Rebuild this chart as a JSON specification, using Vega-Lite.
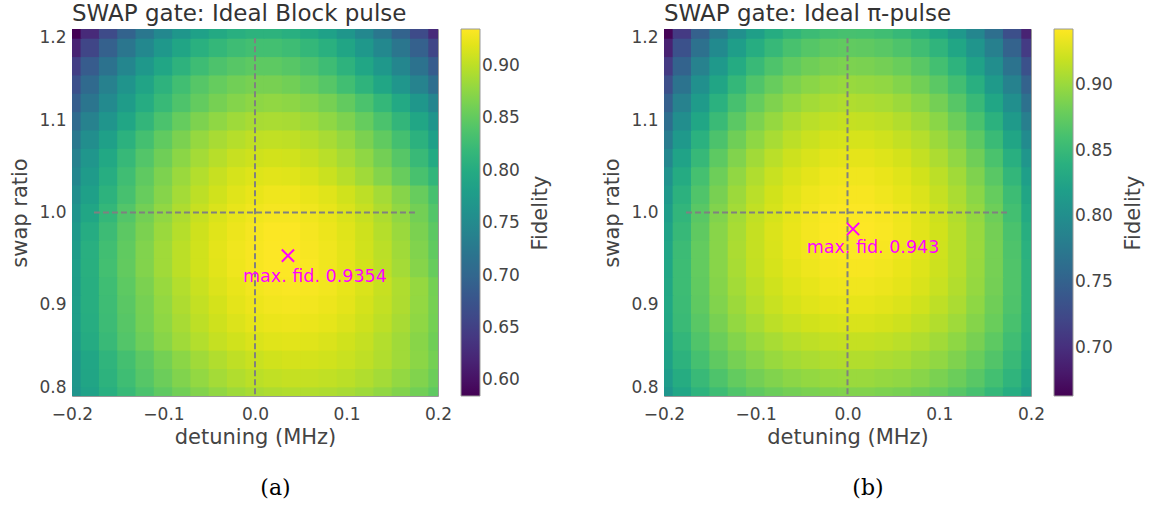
{
"$schema": "https://vega.github.io/schema/vega-lite/v6.json",
"background": "white",
"padding": {"left": 9, "top": 2, "right": 0, "bottom": 0},
"datasets": {
"a": [
{"d":-0.2,"s":0.8,"f":0.767},{"d":-0.18,"s":0.8,"f":0.787},{"d":-0.16,"s":0.8,"f":0.805},{"d":-0.14,"s":0.8,"f":0.821},{"d":-0.12,"s":0.8,"f":0.836},{"d":-0.1,"s":0.8,"f":0.849},{"d":-0.08,"s":0.8,"f":0.86},{"d":-0.06,"s":0.8,"f":0.87},{"d":-0.04,"s":0.8,"f":0.878},{"d":-0.02,"s":0.8,"f":0.885},{"d":0,"s":0.8,"f":0.89},{"d":0.02,"s":0.8,"f":0.893},{"d":0.04,"s":0.8,"f":0.895},{"d":0.06,"s":0.8,"f":0.895},{"d":0.08,"s":0.8,"f":0.893},{"d":0.1,"s":0.8,"f":0.89},{"d":0.12,"s":0.8,"f":0.885},{"d":0.14,"s":0.8,"f":0.878},{"d":0.16,"s":0.8,"f":0.87},{"d":0.18,"s":0.8,"f":0.86},{"d":0.2,"s":0.8,"f":0.849},
{"d":-0.2,"s":0.82,"f":0.771},{"d":-0.18,"s":0.82,"f":0.791},{"d":-0.16,"s":0.82,"f":0.81},{"d":-0.14,"s":0.82,"f":0.827},{"d":-0.12,"s":0.82,"f":0.843},{"d":-0.1,"s":0.82,"f":0.857},{"d":-0.08,"s":0.82,"f":0.869},{"d":-0.06,"s":0.82,"f":0.879},{"d":-0.04,"s":0.82,"f":0.888},{"d":-0.02,"s":0.82,"f":0.895},{"d":0,"s":0.82,"f":0.9},{"d":0.02,"s":0.82,"f":0.903},{"d":0.04,"s":0.82,"f":0.905},{"d":0.06,"s":0.82,"f":0.905},{"d":0.08,"s":0.82,"f":0.903},{"d":0.1,"s":0.82,"f":0.9},{"d":0.12,"s":0.82,"f":0.895},{"d":0.14,"s":0.82,"f":0.888},{"d":0.16,"s":0.82,"f":0.879},{"d":0.18,"s":0.82,"f":0.869},{"d":0.2,"s":0.82,"f":0.857},
{"d":-0.2,"s":0.84,"f":0.771},{"d":-0.18,"s":0.84,"f":0.793},{"d":-0.16,"s":0.84,"f":0.813},{"d":-0.14,"s":0.84,"f":0.831},{"d":-0.12,"s":0.84,"f":0.847},{"d":-0.1,"s":0.84,"f":0.862},{"d":-0.08,"s":0.84,"f":0.875},{"d":-0.06,"s":0.84,"f":0.886},{"d":-0.04,"s":0.84,"f":0.895},{"d":-0.02,"s":0.84,"f":0.902},{"d":0,"s":0.84,"f":0.907},{"d":0.02,"s":0.84,"f":0.911},{"d":0.04,"s":0.84,"f":0.913},{"d":0.06,"s":0.84,"f":0.913},{"d":0.08,"s":0.84,"f":0.911},{"d":0.1,"s":0.84,"f":0.907},{"d":0.12,"s":0.84,"f":0.902},{"d":0.14,"s":0.84,"f":0.895},{"d":0.16,"s":0.84,"f":0.886},{"d":0.18,"s":0.84,"f":0.875},{"d":0.2,"s":0.84,"f":0.862},
{"d":-0.2,"s":0.86,"f":0.778},{"d":-0.18,"s":0.86,"f":0.8},{"d":-0.16,"s":0.86,"f":0.822},{"d":-0.14,"s":0.86,"f":0.841},{"d":-0.12,"s":0.86,"f":0.858},{"d":-0.1,"s":0.86,"f":0.873},{"d":-0.08,"s":0.86,"f":0.886},{"d":-0.06,"s":0.86,"f":0.896},{"d":-0.04,"s":0.86,"f":0.905},{"d":-0.02,"s":0.86,"f":0.911},{"d":0,"s":0.86,"f":0.916},{"d":0.02,"s":0.86,"f":0.919},{"d":0.04,"s":0.86,"f":0.92},{"d":0.06,"s":0.86,"f":0.919},{"d":0.08,"s":0.86,"f":0.916},{"d":0.1,"s":0.86,"f":0.911},{"d":0.12,"s":0.86,"f":0.905},{"d":0.14,"s":0.86,"f":0.896},{"d":0.16,"s":0.86,"f":0.886},{"d":0.18,"s":0.86,"f":0.873},{"d":0.2,"s":0.86,"f":0.859},
{"d":-0.2,"s":0.88,"f":0.78},{"d":-0.18,"s":0.88,"f":0.803},{"d":-0.16,"s":0.88,"f":0.825},{"d":-0.14,"s":0.88,"f":0.844},{"d":-0.12,"s":0.88,"f":0.862},{"d":-0.1,"s":0.88,"f":0.877},{"d":-0.08,"s":0.88,"f":0.89},{"d":-0.06,"s":0.88,"f":0.901},{"d":-0.04,"s":0.88,"f":0.91},{"d":-0.02,"s":0.88,"f":0.917},{"d":0,"s":0.88,"f":0.922},{"d":0.02,"s":0.88,"f":0.925},{"d":0.04,"s":0.88,"f":0.926},{"d":0.06,"s":0.88,"f":0.925},{"d":0.08,"s":0.88,"f":0.922},{"d":0.1,"s":0.88,"f":0.917},{"d":0.12,"s":0.88,"f":0.91},{"d":0.14,"s":0.88,"f":0.901},{"d":0.16,"s":0.88,"f":0.89},{"d":0.18,"s":0.88,"f":0.877},{"d":0.2,"s":0.88,"f":0.862},
{"d":-0.2,"s":0.9,"f":0.78},{"d":-0.18,"s":0.9,"f":0.804},{"d":-0.16,"s":0.9,"f":0.826},{"d":-0.14,"s":0.9,"f":0.846},{"d":-0.12,"s":0.9,"f":0.863},{"d":-0.1,"s":0.9,"f":0.879},{"d":-0.08,"s":0.9,"f":0.893},{"d":-0.06,"s":0.9,"f":0.904},{"d":-0.04,"s":0.9,"f":0.913},{"d":-0.02,"s":0.9,"f":0.921},{"d":0,"s":0.9,"f":0.926},{"d":0.02,"s":0.9,"f":0.929},{"d":0.04,"s":0.9,"f":0.93},{"d":0.06,"s":0.9,"f":0.929},{"d":0.08,"s":0.9,"f":0.926},{"d":0.1,"s":0.9,"f":0.921},{"d":0.12,"s":0.9,"f":0.913},{"d":0.14,"s":0.9,"f":0.904},{"d":0.16,"s":0.9,"f":0.893},{"d":0.18,"s":0.9,"f":0.879},{"d":0.2,"s":0.9,"f":0.863},
{"d":-0.2,"s":0.92,"f":0.779},{"d":-0.18,"s":0.92,"f":0.804},{"d":-0.16,"s":0.92,"f":0.827},{"d":-0.14,"s":0.92,"f":0.848},{"d":-0.12,"s":0.92,"f":0.866},{"d":-0.1,"s":0.92,"f":0.882},{"d":-0.08,"s":0.92,"f":0.896},{"d":-0.06,"s":0.92,"f":0.907},{"d":-0.04,"s":0.92,"f":0.917},{"d":-0.02,"s":0.92,"f":0.924},{"d":0,"s":0.92,"f":0.929},{"d":0.02,"s":0.92,"f":0.932},{"d":0.04,"s":0.92,"f":0.933},{"d":0.06,"s":0.92,"f":0.932},{"d":0.08,"s":0.92,"f":0.929},{"d":0.1,"s":0.92,"f":0.923},{"d":0.12,"s":0.92,"f":0.916},{"d":0.14,"s":0.92,"f":0.906},{"d":0.16,"s":0.92,"f":0.894},{"d":0.18,"s":0.92,"f":0.88},{"d":0.2,"s":0.92,"f":0.862},
{"d":-0.2,"s":0.94,"f":0.78},{"d":-0.18,"s":0.94,"f":0.806},{"d":-0.16,"s":0.94,"f":0.83},{"d":-0.14,"s":0.94,"f":0.851},{"d":-0.12,"s":0.94,"f":0.87},{"d":-0.1,"s":0.94,"f":0.886},{"d":-0.08,"s":0.94,"f":0.9},{"d":-0.06,"s":0.94,"f":0.911},{"d":-0.04,"s":0.94,"f":0.92},{"d":-0.02,"s":0.94,"f":0.927},{"d":0,"s":0.94,"f":0.932},{"d":0.02,"s":0.94,"f":0.935},{"d":0.04,"s":0.94,"f":0.935},{"d":0.06,"s":0.94,"f":0.933},{"d":0.08,"s":0.94,"f":0.928},{"d":0.1,"s":0.94,"f":0.921},{"d":0.12,"s":0.94,"f":0.912},{"d":0.14,"s":0.94,"f":0.901},{"d":0.16,"s":0.94,"f":0.888},{"d":0.18,"s":0.94,"f":0.872},{"d":0.2,"s":0.94,"f":0.854},
{"d":-0.2,"s":0.96,"f":0.778},{"d":-0.18,"s":0.96,"f":0.805},{"d":-0.16,"s":0.96,"f":0.829},{"d":-0.14,"s":0.96,"f":0.85},{"d":-0.12,"s":0.96,"f":0.869},{"d":-0.1,"s":0.96,"f":0.886},{"d":-0.08,"s":0.96,"f":0.9},{"d":-0.06,"s":0.96,"f":0.911},{"d":-0.04,"s":0.96,"f":0.921},{"d":-0.02,"s":0.96,"f":0.928},{"d":0,"s":0.96,"f":0.932},{"d":0.02,"s":0.96,"f":0.935},{"d":0.04,"s":0.96,"f":0.935},{"d":0.06,"s":0.96,"f":0.932},{"d":0.08,"s":0.96,"f":0.928},{"d":0.1,"s":0.96,"f":0.921},{"d":0.12,"s":0.96,"f":0.911},{"d":0.14,"s":0.96,"f":0.9},{"d":0.16,"s":0.96,"f":0.886},{"d":0.18,"s":0.96,"f":0.869},{"d":0.2,"s":0.96,"f":0.85},
{"d":-0.2,"s":0.98,"f":0.774},{"d":-0.18,"s":0.98,"f":0.801},{"d":-0.16,"s":0.98,"f":0.825},{"d":-0.14,"s":0.98,"f":0.847},{"d":-0.12,"s":0.98,"f":0.866},{"d":-0.1,"s":0.98,"f":0.883},{"d":-0.08,"s":0.98,"f":0.897},{"d":-0.06,"s":0.98,"f":0.91},{"d":-0.04,"s":0.98,"f":0.919},{"d":-0.02,"s":0.98,"f":0.926},{"d":0,"s":0.98,"f":0.931},{"d":0.02,"s":0.98,"f":0.934},{"d":0.04,"s":0.98,"f":0.934},{"d":0.06,"s":0.98,"f":0.931},{"d":0.08,"s":0.98,"f":0.926},{"d":0.1,"s":0.98,"f":0.919},{"d":0.12,"s":0.98,"f":0.91},{"d":0.14,"s":0.98,"f":0.897},{"d":0.16,"s":0.98,"f":0.883},{"d":0.18,"s":0.98,"f":0.866},{"d":0.2,"s":0.98,"f":0.847},
{"d":-0.2,"s":1.0,"f":0.766},{"d":-0.18,"s":1.0,"f":0.793},{"d":-0.16,"s":1.0,"f":0.818},{"d":-0.14,"s":1.0,"f":0.841},{"d":-0.12,"s":1.0,"f":0.861},{"d":-0.1,"s":1.0,"f":0.878},{"d":-0.08,"s":1.0,"f":0.893},{"d":-0.06,"s":1.0,"f":0.906},{"d":-0.04,"s":1.0,"f":0.916},{"d":-0.02,"s":1.0,"f":0.923},{"d":0,"s":1.0,"f":0.928},{"d":0.02,"s":1.0,"f":0.931},{"d":0.04,"s":1.0,"f":0.931},{"d":0.06,"s":1.0,"f":0.928},{"d":0.08,"s":1.0,"f":0.923},{"d":0.1,"s":1.0,"f":0.916},{"d":0.12,"s":1.0,"f":0.906},{"d":0.14,"s":1.0,"f":0.893},{"d":0.16,"s":1.0,"f":0.878},{"d":0.18,"s":1.0,"f":0.861},{"d":0.2,"s":1.0,"f":0.841},
{"d":-0.2,"s":1.02,"f":0.756},{"d":-0.18,"s":1.02,"f":0.784},{"d":-0.16,"s":1.02,"f":0.81},{"d":-0.14,"s":1.02,"f":0.833},{"d":-0.12,"s":1.02,"f":0.854},{"d":-0.1,"s":1.02,"f":0.872},{"d":-0.08,"s":1.02,"f":0.888},{"d":-0.06,"s":1.02,"f":0.901},{"d":-0.04,"s":1.02,"f":0.911},{"d":-0.02,"s":1.02,"f":0.919},{"d":0,"s":1.02,"f":0.924},{"d":0.02,"s":1.02,"f":0.927},{"d":0.04,"s":1.02,"f":0.927},{"d":0.06,"s":1.02,"f":0.924},{"d":0.08,"s":1.02,"f":0.919},{"d":0.1,"s":1.02,"f":0.911},{"d":0.12,"s":1.02,"f":0.901},{"d":0.14,"s":1.02,"f":0.888},{"d":0.16,"s":1.02,"f":0.872},{"d":0.18,"s":1.02,"f":0.854},{"d":0.2,"s":1.02,"f":0.833},
{"d":-0.2,"s":1.04,"f":0.746},{"d":-0.18,"s":1.04,"f":0.776},{"d":-0.16,"s":1.04,"f":0.803},{"d":-0.14,"s":1.04,"f":0.828},{"d":-0.12,"s":1.04,"f":0.849},{"d":-0.1,"s":1.04,"f":0.867},{"d":-0.08,"s":1.04,"f":0.883},{"d":-0.06,"s":1.04,"f":0.896},{"d":-0.04,"s":1.04,"f":0.906},{"d":-0.02,"s":1.04,"f":0.914},{"d":0,"s":1.04,"f":0.918},{"d":0.02,"s":1.04,"f":0.92},{"d":0.04,"s":1.04,"f":0.919},{"d":0.06,"s":1.04,"f":0.915},{"d":0.08,"s":1.04,"f":0.908},{"d":0.1,"s":1.04,"f":0.898},{"d":0.12,"s":1.04,"f":0.886},{"d":0.14,"s":1.04,"f":0.871},{"d":0.16,"s":1.04,"f":0.854},{"d":0.18,"s":1.04,"f":0.834},{"d":0.2,"s":1.04,"f":0.815},
{"d":-0.2,"s":1.06,"f":0.737},{"d":-0.18,"s":1.06,"f":0.768},{"d":-0.16,"s":1.06,"f":0.795},{"d":-0.14,"s":1.06,"f":0.82},{"d":-0.12,"s":1.06,"f":0.841},{"d":-0.1,"s":1.06,"f":0.859},{"d":-0.08,"s":1.06,"f":0.875},{"d":-0.06,"s":1.06,"f":0.888},{"d":-0.04,"s":1.06,"f":0.898},{"d":-0.02,"s":1.06,"f":0.906},{"d":0,"s":1.06,"f":0.91},{"d":0.02,"s":1.06,"f":0.912},{"d":0.04,"s":1.06,"f":0.911},{"d":0.06,"s":1.06,"f":0.906},{"d":0.08,"s":1.06,"f":0.899},{"d":0.1,"s":1.06,"f":0.889},{"d":0.12,"s":1.06,"f":0.877},{"d":0.14,"s":1.06,"f":0.861},{"d":0.16,"s":1.06,"f":0.843},{"d":0.18,"s":1.06,"f":0.822},{"d":0.2,"s":1.06,"f":0.798},
{"d":-0.2,"s":1.08,"f":0.725},{"d":-0.18,"s":1.08,"f":0.756},{"d":-0.16,"s":1.08,"f":0.784},{"d":-0.14,"s":1.08,"f":0.809},{"d":-0.12,"s":1.08,"f":0.831},{"d":-0.1,"s":1.08,"f":0.85},{"d":-0.08,"s":1.08,"f":0.866},{"d":-0.06,"s":1.08,"f":0.88},{"d":-0.04,"s":1.08,"f":0.89},{"d":-0.02,"s":1.08,"f":0.897},{"d":0,"s":1.08,"f":0.902},{"d":0.02,"s":1.08,"f":0.903},{"d":0.04,"s":1.08,"f":0.902},{"d":0.06,"s":1.08,"f":0.897},{"d":0.08,"s":1.08,"f":0.89},{"d":0.1,"s":1.08,"f":0.88},{"d":0.12,"s":1.08,"f":0.866},{"d":0.14,"s":1.08,"f":0.85},{"d":0.16,"s":1.08,"f":0.831},{"d":0.18,"s":1.08,"f":0.809},{"d":0.2,"s":1.08,"f":0.784},
{"d":-0.2,"s":1.1,"f":0.706},{"d":-0.18,"s":1.1,"f":0.738},{"d":-0.16,"s":1.1,"f":0.767},{"d":-0.14,"s":1.1,"f":0.793},{"d":-0.12,"s":1.1,"f":0.816},{"d":-0.1,"s":1.1,"f":0.836},{"d":-0.08,"s":1.1,"f":0.853},{"d":-0.06,"s":1.1,"f":0.867},{"d":-0.04,"s":1.1,"f":0.877},{"d":-0.02,"s":1.1,"f":0.885},{"d":0,"s":1.1,"f":0.89},{"d":0.02,"s":1.1,"f":0.891},{"d":0.04,"s":1.1,"f":0.89},{"d":0.06,"s":1.1,"f":0.885},{"d":0.08,"s":1.1,"f":0.877},{"d":0.1,"s":1.1,"f":0.867},{"d":0.12,"s":1.1,"f":0.853},{"d":0.14,"s":1.1,"f":0.836},{"d":0.16,"s":1.1,"f":0.816},{"d":0.18,"s":1.1,"f":0.793},{"d":0.2,"s":1.1,"f":0.767},
{"d":-0.2,"s":1.12,"f":0.688},{"d":-0.18,"s":1.12,"f":0.721},{"d":-0.16,"s":1.12,"f":0.751},{"d":-0.14,"s":1.12,"f":0.778},{"d":-0.12,"s":1.12,"f":0.801},{"d":-0.1,"s":1.12,"f":0.821},{"d":-0.08,"s":1.12,"f":0.838},{"d":-0.06,"s":1.12,"f":0.852},{"d":-0.04,"s":1.12,"f":0.863},{"d":-0.02,"s":1.12,"f":0.871},{"d":0,"s":1.12,"f":0.876},{"d":0.02,"s":1.12,"f":0.878},{"d":0.04,"s":1.12,"f":0.876},{"d":0.06,"s":1.12,"f":0.871},{"d":0.08,"s":1.12,"f":0.863},{"d":0.1,"s":1.12,"f":0.851},{"d":0.12,"s":1.12,"f":0.836},{"d":0.14,"s":1.12,"f":0.818},{"d":0.16,"s":1.12,"f":0.796},{"d":0.18,"s":1.12,"f":0.771},{"d":0.2,"s":1.12,"f":0.743},
{"d":-0.2,"s":1.14,"f":0.67},{"d":-0.18,"s":1.14,"f":0.705},{"d":-0.16,"s":1.14,"f":0.737},{"d":-0.14,"s":1.14,"f":0.765},{"d":-0.12,"s":1.14,"f":0.79},{"d":-0.1,"s":1.14,"f":0.811},{"d":-0.08,"s":1.14,"f":0.829},{"d":-0.06,"s":1.14,"f":0.843},{"d":-0.04,"s":1.14,"f":0.853},{"d":-0.02,"s":1.14,"f":0.86},{"d":0,"s":1.14,"f":0.864},{"d":0.02,"s":1.14,"f":0.864},{"d":0.04,"s":1.14,"f":0.86},{"d":0.06,"s":1.14,"f":0.853},{"d":0.08,"s":1.14,"f":0.843},{"d":0.1,"s":1.14,"f":0.829},{"d":0.12,"s":1.14,"f":0.812},{"d":0.14,"s":1.14,"f":0.792},{"d":0.16,"s":1.14,"f":0.768},{"d":0.18,"s":1.14,"f":0.741},{"d":0.2,"s":1.14,"f":0.71},
{"d":-0.2,"s":1.16,"f":0.648},{"d":-0.18,"s":1.16,"f":0.685},{"d":-0.16,"s":1.16,"f":0.717},{"d":-0.14,"s":1.16,"f":0.746},{"d":-0.12,"s":1.16,"f":0.772},{"d":-0.1,"s":1.16,"f":0.793},{"d":-0.08,"s":1.16,"f":0.811},{"d":-0.06,"s":1.16,"f":0.826},{"d":-0.04,"s":1.16,"f":0.837},{"d":-0.02,"s":1.16,"f":0.844},{"d":0,"s":1.16,"f":0.848},{"d":0.02,"s":1.16,"f":0.848},{"d":0.04,"s":1.16,"f":0.844},{"d":0.06,"s":1.16,"f":0.837},{"d":0.08,"s":1.16,"f":0.826},{"d":0.1,"s":1.16,"f":0.811},{"d":0.12,"s":1.16,"f":0.793},{"d":0.14,"s":1.16,"f":0.772},{"d":0.16,"s":1.16,"f":0.746},{"d":0.18,"s":1.16,"f":0.717},{"d":0.2,"s":1.16,"f":0.685},
{"d":-0.2,"s":1.18,"f":0.618},{"d":-0.18,"s":1.18,"f":0.657},{"d":-0.16,"s":1.18,"f":0.691},{"d":-0.14,"s":1.18,"f":0.722},{"d":-0.12,"s":1.18,"f":0.749},{"d":-0.1,"s":1.18,"f":0.772},{"d":-0.08,"s":1.18,"f":0.791},{"d":-0.06,"s":1.18,"f":0.807},{"d":-0.04,"s":1.18,"f":0.818},{"d":-0.02,"s":1.18,"f":0.826},{"d":0,"s":1.18,"f":0.83},{"d":0.02,"s":1.18,"f":0.83},{"d":0.04,"s":1.18,"f":0.826},{"d":0.06,"s":1.18,"f":0.818},{"d":0.08,"s":1.18,"f":0.807},{"d":0.1,"s":1.18,"f":0.791},{"d":0.12,"s":1.18,"f":0.772},{"d":0.14,"s":1.18,"f":0.749},{"d":0.16,"s":1.18,"f":0.722},{"d":0.18,"s":1.18,"f":0.691},{"d":0.2,"s":1.18,"f":0.657},
{"d":-0.2,"s":1.2,"f":0.585},{"d":-0.18,"s":1.2,"f":0.626},{"d":-0.16,"s":1.2,"f":0.663},{"d":-0.14,"s":1.2,"f":0.695},{"d":-0.12,"s":1.2,"f":0.724},{"d":-0.1,"s":1.2,"f":0.748},{"d":-0.08,"s":1.2,"f":0.769},{"d":-0.06,"s":1.2,"f":0.785},{"d":-0.04,"s":1.2,"f":0.797},{"d":-0.02,"s":1.2,"f":0.805},{"d":0,"s":1.2,"f":0.81},{"d":0.02,"s":1.2,"f":0.81},{"d":0.04,"s":1.2,"f":0.805},{"d":0.06,"s":1.2,"f":0.797},{"d":0.08,"s":1.2,"f":0.785},{"d":0.1,"s":1.2,"f":0.769},{"d":0.12,"s":1.2,"f":0.748},{"d":0.14,"s":1.2,"f":0.724},{"d":0.16,"s":1.2,"f":0.695},{"d":0.18,"s":1.2,"f":0.663},{"d":0.2,"s":1.2,"f":0.626}
],
"b": [
{"d":-0.2,"s":0.8,"f":0.81},{"d":-0.18,"s":0.8,"f":0.829},{"d":-0.16,"s":0.8,"f":0.844},{"d":-0.14,"s":0.8,"f":0.856},{"d":-0.12,"s":0.8,"f":0.866},{"d":-0.1,"s":0.8,"f":0.874},{"d":-0.08,"s":0.8,"f":0.88},{"d":-0.06,"s":0.8,"f":0.884},{"d":-0.04,"s":0.8,"f":0.887},{"d":-0.02,"s":0.8,"f":0.889},{"d":0,"s":0.8,"f":0.89},{"d":0.02,"s":0.8,"f":0.89},{"d":0.04,"s":0.8,"f":0.888},{"d":0.06,"s":0.8,"f":0.886},{"d":0.08,"s":0.8,"f":0.882},{"d":0.1,"s":0.8,"f":0.877},{"d":0.12,"s":0.8,"f":0.87},{"d":0.14,"s":0.8,"f":0.861},{"d":0.16,"s":0.8,"f":0.85},{"d":0.18,"s":0.8,"f":0.837},{"d":0.2,"s":0.8,"f":0.82},
{"d":-0.2,"s":0.82,"f":0.817},{"d":-0.18,"s":0.82,"f":0.836},{"d":-0.16,"s":0.82,"f":0.852},{"d":-0.14,"s":0.82,"f":0.865},{"d":-0.12,"s":0.82,"f":0.876},{"d":-0.1,"s":0.82,"f":0.884},{"d":-0.08,"s":0.82,"f":0.89},{"d":-0.06,"s":0.82,"f":0.895},{"d":-0.04,"s":0.82,"f":0.898},{"d":-0.02,"s":0.82,"f":0.9},{"d":0,"s":0.82,"f":0.901},{"d":0.02,"s":0.82,"f":0.901},{"d":0.04,"s":0.82,"f":0.899},{"d":0.06,"s":0.82,"f":0.897},{"d":0.08,"s":0.82,"f":0.893},{"d":0.1,"s":0.82,"f":0.887},{"d":0.12,"s":0.82,"f":0.88},{"d":0.14,"s":0.82,"f":0.871},{"d":0.16,"s":0.82,"f":0.859},{"d":0.18,"s":0.82,"f":0.845},{"d":0.2,"s":0.82,"f":0.827},
{"d":-0.2,"s":0.84,"f":0.823},{"d":-0.18,"s":0.84,"f":0.843},{"d":-0.16,"s":0.84,"f":0.86},{"d":-0.14,"s":0.84,"f":0.874},{"d":-0.12,"s":0.84,"f":0.885},{"d":-0.1,"s":0.84,"f":0.893},{"d":-0.08,"s":0.84,"f":0.9},{"d":-0.06,"s":0.84,"f":0.905},{"d":-0.04,"s":0.84,"f":0.908},{"d":-0.02,"s":0.84,"f":0.91},{"d":0,"s":0.84,"f":0.911},{"d":0.02,"s":0.84,"f":0.911},{"d":0.04,"s":0.84,"f":0.909},{"d":0.06,"s":0.84,"f":0.907},{"d":0.08,"s":0.84,"f":0.902},{"d":0.1,"s":0.84,"f":0.897},{"d":0.12,"s":0.84,"f":0.889},{"d":0.14,"s":0.84,"f":0.879},{"d":0.16,"s":0.84,"f":0.867},{"d":0.18,"s":0.84,"f":0.852},{"d":0.2,"s":0.84,"f":0.833},
{"d":-0.2,"s":0.86,"f":0.826},{"d":-0.18,"s":0.86,"f":0.848},{"d":-0.16,"s":0.86,"f":0.866},{"d":-0.14,"s":0.86,"f":0.88},{"d":-0.12,"s":0.86,"f":0.891},{"d":-0.1,"s":0.86,"f":0.9},{"d":-0.08,"s":0.86,"f":0.907},{"d":-0.06,"s":0.86,"f":0.912},{"d":-0.04,"s":0.86,"f":0.916},{"d":-0.02,"s":0.86,"f":0.918},{"d":0,"s":0.86,"f":0.919},{"d":0.02,"s":0.86,"f":0.919},{"d":0.04,"s":0.86,"f":0.917},{"d":0.06,"s":0.86,"f":0.914},{"d":0.08,"s":0.86,"f":0.91},{"d":0.1,"s":0.86,"f":0.904},{"d":0.12,"s":0.86,"f":0.896},{"d":0.14,"s":0.86,"f":0.886},{"d":0.16,"s":0.86,"f":0.873},{"d":0.18,"s":0.86,"f":0.857},{"d":0.2,"s":0.86,"f":0.838},
{"d":-0.2,"s":0.88,"f":0.83},{"d":-0.18,"s":0.88,"f":0.853},{"d":-0.16,"s":0.88,"f":0.871},{"d":-0.14,"s":0.88,"f":0.886},{"d":-0.12,"s":0.88,"f":0.898},{"d":-0.1,"s":0.88,"f":0.907},{"d":-0.08,"s":0.88,"f":0.915},{"d":-0.06,"s":0.88,"f":0.92},{"d":-0.04,"s":0.88,"f":0.924},{"d":-0.02,"s":0.88,"f":0.926},{"d":0,"s":0.88,"f":0.927},{"d":0.02,"s":0.88,"f":0.927},{"d":0.04,"s":0.88,"f":0.925},{"d":0.06,"s":0.88,"f":0.922},{"d":0.08,"s":0.88,"f":0.917},{"d":0.1,"s":0.88,"f":0.911},{"d":0.12,"s":0.88,"f":0.903},{"d":0.14,"s":0.88,"f":0.892},{"d":0.16,"s":0.88,"f":0.879},{"d":0.18,"s":0.88,"f":0.862},{"d":0.2,"s":0.88,"f":0.842},
{"d":-0.2,"s":0.9,"f":0.831},{"d":-0.18,"s":0.9,"f":0.854},{"d":-0.16,"s":0.9,"f":0.874},{"d":-0.14,"s":0.9,"f":0.89},{"d":-0.12,"s":0.9,"f":0.902},{"d":-0.1,"s":0.9,"f":0.912},{"d":-0.08,"s":0.9,"f":0.92},{"d":-0.06,"s":0.9,"f":0.926},{"d":-0.04,"s":0.9,"f":0.93},{"d":-0.02,"s":0.9,"f":0.932},{"d":0,"s":0.9,"f":0.933},{"d":0.02,"s":0.9,"f":0.933},{"d":0.04,"s":0.9,"f":0.931},{"d":0.06,"s":0.9,"f":0.928},{"d":0.08,"s":0.9,"f":0.923},{"d":0.1,"s":0.9,"f":0.916},{"d":0.12,"s":0.9,"f":0.908},{"d":0.14,"s":0.9,"f":0.896},{"d":0.16,"s":0.9,"f":0.882},{"d":0.18,"s":0.9,"f":0.865},{"d":0.2,"s":0.9,"f":0.843},
{"d":-0.2,"s":0.92,"f":0.83},{"d":-0.18,"s":0.92,"f":0.855},{"d":-0.16,"s":0.92,"f":0.875},{"d":-0.14,"s":0.92,"f":0.892},{"d":-0.12,"s":0.92,"f":0.905},{"d":-0.1,"s":0.92,"f":0.915},{"d":-0.08,"s":0.92,"f":0.923},{"d":-0.06,"s":0.92,"f":0.929},{"d":-0.04,"s":0.92,"f":0.933},{"d":-0.02,"s":0.92,"f":0.936},{"d":0,"s":0.92,"f":0.937},{"d":0.02,"s":0.92,"f":0.937},{"d":0.04,"s":0.92,"f":0.935},{"d":0.06,"s":0.92,"f":0.932},{"d":0.08,"s":0.92,"f":0.927},{"d":0.1,"s":0.92,"f":0.92},{"d":0.12,"s":0.92,"f":0.911},{"d":0.14,"s":0.92,"f":0.899},{"d":0.16,"s":0.92,"f":0.884},{"d":0.18,"s":0.92,"f":0.866},{"d":0.2,"s":0.92,"f":0.843},
{"d":-0.2,"s":0.94,"f":0.829},{"d":-0.18,"s":0.94,"f":0.855},{"d":-0.16,"s":0.94,"f":0.876},{"d":-0.14,"s":0.94,"f":0.893},{"d":-0.12,"s":0.94,"f":0.907},{"d":-0.1,"s":0.94,"f":0.918},{"d":-0.08,"s":0.94,"f":0.926},{"d":-0.06,"s":0.94,"f":0.932},{"d":-0.04,"s":0.94,"f":0.936},{"d":-0.02,"s":0.94,"f":0.939},{"d":0,"s":0.94,"f":0.94},{"d":0.02,"s":0.94,"f":0.94},{"d":0.04,"s":0.94,"f":0.938},{"d":0.06,"s":0.94,"f":0.934},{"d":0.08,"s":0.94,"f":0.929},{"d":0.1,"s":0.94,"f":0.922},{"d":0.12,"s":0.94,"f":0.913},{"d":0.14,"s":0.94,"f":0.9},{"d":0.16,"s":0.94,"f":0.885},{"d":0.18,"s":0.94,"f":0.866},{"d":0.2,"s":0.94,"f":0.843},
{"d":-0.2,"s":0.96,"f":0.827},{"d":-0.18,"s":0.96,"f":0.854},{"d":-0.16,"s":0.96,"f":0.876},{"d":-0.14,"s":0.96,"f":0.893},{"d":-0.12,"s":0.96,"f":0.908},{"d":-0.1,"s":0.96,"f":0.919},{"d":-0.08,"s":0.96,"f":0.927},{"d":-0.06,"s":0.96,"f":0.934},{"d":-0.04,"s":0.96,"f":0.938},{"d":-0.02,"s":0.96,"f":0.941},{"d":0,"s":0.96,"f":0.942},{"d":0.02,"s":0.96,"f":0.942},{"d":0.04,"s":0.96,"f":0.94},{"d":0.06,"s":0.96,"f":0.936},{"d":0.08,"s":0.96,"f":0.931},{"d":0.1,"s":0.96,"f":0.923},{"d":0.12,"s":0.96,"f":0.913},{"d":0.14,"s":0.96,"f":0.901},{"d":0.16,"s":0.96,"f":0.885},{"d":0.18,"s":0.96,"f":0.865},{"d":0.2,"s":0.96,"f":0.841},
{"d":-0.2,"s":0.98,"f":0.824},{"d":-0.18,"s":0.98,"f":0.851},{"d":-0.16,"s":0.98,"f":0.874},{"d":-0.14,"s":0.98,"f":0.893},{"d":-0.12,"s":0.98,"f":0.907},{"d":-0.1,"s":0.98,"f":0.919},{"d":-0.08,"s":0.98,"f":0.928},{"d":-0.06,"s":0.98,"f":0.934},{"d":-0.04,"s":0.98,"f":0.939},{"d":-0.02,"s":0.98,"f":0.942},{"d":0,"s":0.98,"f":0.943},{"d":0.02,"s":0.98,"f":0.943},{"d":0.04,"s":0.98,"f":0.941},{"d":0.06,"s":0.98,"f":0.937},{"d":0.08,"s":0.98,"f":0.931},{"d":0.1,"s":0.98,"f":0.924},{"d":0.12,"s":0.98,"f":0.913},{"d":0.14,"s":0.98,"f":0.9},{"d":0.16,"s":0.98,"f":0.884},{"d":0.18,"s":0.98,"f":0.863},{"d":0.2,"s":0.98,"f":0.838},
{"d":-0.2,"s":1.0,"f":0.818},{"d":-0.18,"s":1.0,"f":0.847},{"d":-0.16,"s":1.0,"f":0.871},{"d":-0.14,"s":1.0,"f":0.89},{"d":-0.12,"s":1.0,"f":0.905},{"d":-0.1,"s":1.0,"f":0.917},{"d":-0.08,"s":1.0,"f":0.926},{"d":-0.06,"s":1.0,"f":0.933},{"d":-0.04,"s":1.0,"f":0.938},{"d":-0.02,"s":1.0,"f":0.941},{"d":0,"s":1.0,"f":0.942},{"d":0.02,"s":1.0,"f":0.942},{"d":0.04,"s":1.0,"f":0.94},{"d":0.06,"s":1.0,"f":0.936},{"d":0.08,"s":1.0,"f":0.93},{"d":0.1,"s":1.0,"f":0.922},{"d":0.12,"s":1.0,"f":0.911},{"d":0.14,"s":1.0,"f":0.898},{"d":0.16,"s":1.0,"f":0.881},{"d":0.18,"s":1.0,"f":0.859},{"d":0.2,"s":1.0,"f":0.833},
{"d":-0.2,"s":1.02,"f":0.812},{"d":-0.18,"s":1.02,"f":0.842},{"d":-0.16,"s":1.02,"f":0.866},{"d":-0.14,"s":1.02,"f":0.886},{"d":-0.12,"s":1.02,"f":0.902},{"d":-0.1,"s":1.02,"f":0.914},{"d":-0.08,"s":1.02,"f":0.924},{"d":-0.06,"s":1.02,"f":0.931},{"d":-0.04,"s":1.02,"f":0.936},{"d":-0.02,"s":1.02,"f":0.939},{"d":0,"s":1.02,"f":0.94},{"d":0.02,"s":1.02,"f":0.94},{"d":0.04,"s":1.02,"f":0.937},{"d":0.06,"s":1.02,"f":0.933},{"d":0.08,"s":1.02,"f":0.928},{"d":0.1,"s":1.02,"f":0.919},{"d":0.12,"s":1.02,"f":0.908},{"d":0.14,"s":1.02,"f":0.894},{"d":0.16,"s":1.02,"f":0.877},{"d":0.18,"s":1.02,"f":0.855},{"d":0.2,"s":1.02,"f":0.828},
{"d":-0.2,"s":1.04,"f":0.804},{"d":-0.18,"s":1.04,"f":0.835},{"d":-0.16,"s":1.04,"f":0.86},{"d":-0.14,"s":1.04,"f":0.881},{"d":-0.12,"s":1.04,"f":0.897},{"d":-0.1,"s":1.04,"f":0.91},{"d":-0.08,"s":1.04,"f":0.92},{"d":-0.06,"s":1.04,"f":0.927},{"d":-0.04,"s":1.04,"f":0.932},{"d":-0.02,"s":1.04,"f":0.936},{"d":0,"s":1.04,"f":0.937},{"d":0.02,"s":1.04,"f":0.937},{"d":0.04,"s":1.04,"f":0.934},{"d":0.06,"s":1.04,"f":0.93},{"d":0.08,"s":1.04,"f":0.924},{"d":0.1,"s":1.04,"f":0.915},{"d":0.12,"s":1.04,"f":0.904},{"d":0.14,"s":1.04,"f":0.889},{"d":0.16,"s":1.04,"f":0.871},{"d":0.18,"s":1.04,"f":0.848},{"d":0.2,"s":1.04,"f":0.82},
{"d":-0.2,"s":1.06,"f":0.792},{"d":-0.18,"s":1.06,"f":0.825},{"d":-0.16,"s":1.06,"f":0.851},{"d":-0.14,"s":1.06,"f":0.873},{"d":-0.12,"s":1.06,"f":0.89},{"d":-0.1,"s":1.06,"f":0.904},{"d":-0.08,"s":1.06,"f":0.914},{"d":-0.06,"s":1.06,"f":0.922},{"d":-0.04,"s":1.06,"f":0.927},{"d":-0.02,"s":1.06,"f":0.931},{"d":0,"s":1.06,"f":0.932},{"d":0.02,"s":1.06,"f":0.932},{"d":0.04,"s":1.06,"f":0.929},{"d":0.06,"s":1.06,"f":0.925},{"d":0.08,"s":1.06,"f":0.918},{"d":0.1,"s":1.06,"f":0.909},{"d":0.12,"s":1.06,"f":0.897},{"d":0.14,"s":1.06,"f":0.882},{"d":0.16,"s":1.06,"f":0.863},{"d":0.18,"s":1.06,"f":0.839},{"d":0.2,"s":1.06,"f":0.809},
{"d":-0.2,"s":1.08,"f":0.779},{"d":-0.18,"s":1.08,"f":0.813},{"d":-0.16,"s":1.08,"f":0.841},{"d":-0.14,"s":1.08,"f":0.864},{"d":-0.12,"s":1.08,"f":0.882},{"d":-0.1,"s":1.08,"f":0.896},{"d":-0.08,"s":1.08,"f":0.907},{"d":-0.06,"s":1.08,"f":0.915},{"d":-0.04,"s":1.08,"f":0.921},{"d":-0.02,"s":1.08,"f":0.925},{"d":0,"s":1.08,"f":0.926},{"d":0.02,"s":1.08,"f":0.926},{"d":0.04,"s":1.08,"f":0.923},{"d":0.06,"s":1.08,"f":0.918},{"d":0.08,"s":1.08,"f":0.912},{"d":0.1,"s":1.08,"f":0.902},{"d":0.12,"s":1.08,"f":0.89},{"d":0.14,"s":1.08,"f":0.873},{"d":0.16,"s":1.08,"f":0.853},{"d":0.18,"s":1.08,"f":0.828},{"d":0.2,"s":1.08,"f":0.797},
{"d":-0.2,"s":1.1,"f":0.763},{"d":-0.18,"s":1.1,"f":0.8},{"d":-0.16,"s":1.1,"f":0.829},{"d":-0.14,"s":1.1,"f":0.853},{"d":-0.12,"s":1.1,"f":0.872},{"d":-0.1,"s":1.1,"f":0.888},{"d":-0.08,"s":1.1,"f":0.899},{"d":-0.06,"s":1.1,"f":0.908},{"d":-0.04,"s":1.1,"f":0.914},{"d":-0.02,"s":1.1,"f":0.917},{"d":0,"s":1.1,"f":0.919},{"d":0.02,"s":1.1,"f":0.918},{"d":0.04,"s":1.1,"f":0.916},{"d":0.06,"s":1.1,"f":0.911},{"d":0.08,"s":1.1,"f":0.904},{"d":0.1,"s":1.1,"f":0.894},{"d":0.12,"s":1.1,"f":0.88},{"d":0.14,"s":1.1,"f":0.863},{"d":0.16,"s":1.1,"f":0.842},{"d":0.18,"s":1.1,"f":0.815},{"d":0.2,"s":1.1,"f":0.782},
{"d":-0.2,"s":1.12,"f":0.747},{"d":-0.18,"s":1.12,"f":0.785},{"d":-0.16,"s":1.12,"f":0.816},{"d":-0.14,"s":1.12,"f":0.841},{"d":-0.12,"s":1.12,"f":0.861},{"d":-0.1,"s":1.12,"f":0.877},{"d":-0.08,"s":1.12,"f":0.889},{"d":-0.06,"s":1.12,"f":0.898},{"d":-0.04,"s":1.12,"f":0.905},{"d":-0.02,"s":1.12,"f":0.908},{"d":0,"s":1.12,"f":0.91},{"d":0.02,"s":1.12,"f":0.909},{"d":0.04,"s":1.12,"f":0.907},{"d":0.06,"s":1.12,"f":0.902},{"d":0.08,"s":1.12,"f":0.894},{"d":0.1,"s":1.12,"f":0.884},{"d":0.12,"s":1.12,"f":0.87},{"d":0.14,"s":1.12,"f":0.852},{"d":0.16,"s":1.12,"f":0.829},{"d":0.18,"s":1.12,"f":0.801},{"d":0.2,"s":1.12,"f":0.767},
{"d":-0.2,"s":1.14,"f":0.729},{"d":-0.18,"s":1.14,"f":0.769},{"d":-0.16,"s":1.14,"f":0.802},{"d":-0.14,"s":1.14,"f":0.828},{"d":-0.12,"s":1.14,"f":0.849},{"d":-0.1,"s":1.14,"f":0.866},{"d":-0.08,"s":1.14,"f":0.878},{"d":-0.06,"s":1.14,"f":0.888},{"d":-0.04,"s":1.14,"f":0.894},{"d":-0.02,"s":1.14,"f":0.898},{"d":0,"s":1.14,"f":0.9},{"d":0.02,"s":1.14,"f":0.899},{"d":0.04,"s":1.14,"f":0.897},{"d":0.06,"s":1.14,"f":0.891},{"d":0.08,"s":1.14,"f":0.883},{"d":0.1,"s":1.14,"f":0.872},{"d":0.12,"s":1.14,"f":0.858},{"d":0.14,"s":1.14,"f":0.839},{"d":0.16,"s":1.14,"f":0.815},{"d":0.18,"s":1.14,"f":0.786},{"d":0.2,"s":1.14,"f":0.75},
{"d":-0.2,"s":1.16,"f":0.71},{"d":-0.18,"s":1.16,"f":0.751},{"d":-0.16,"s":1.16,"f":0.785},{"d":-0.14,"s":1.16,"f":0.813},{"d":-0.12,"s":1.16,"f":0.835},{"d":-0.1,"s":1.16,"f":0.852},{"d":-0.08,"s":1.16,"f":0.865},{"d":-0.06,"s":1.16,"f":0.875},{"d":-0.04,"s":1.16,"f":0.882},{"d":-0.02,"s":1.16,"f":0.886},{"d":0,"s":1.16,"f":0.888},{"d":0.02,"s":1.16,"f":0.887},{"d":0.04,"s":1.16,"f":0.884},{"d":0.06,"s":1.16,"f":0.879},{"d":0.08,"s":1.16,"f":0.871},{"d":0.1,"s":1.16,"f":0.859},{"d":0.12,"s":1.16,"f":0.844},{"d":0.14,"s":1.16,"f":0.824},{"d":0.16,"s":1.16,"f":0.8},{"d":0.18,"s":1.16,"f":0.769},{"d":0.2,"s":1.16,"f":0.732},
{"d":-0.2,"s":1.18,"f":0.688},{"d":-0.18,"s":1.18,"f":0.732},{"d":-0.16,"s":1.18,"f":0.767},{"d":-0.14,"s":1.18,"f":0.796},{"d":-0.12,"s":1.18,"f":0.819},{"d":-0.1,"s":1.18,"f":0.837},{"d":-0.08,"s":1.18,"f":0.851},{"d":-0.06,"s":1.18,"f":0.862},{"d":-0.04,"s":1.18,"f":0.869},{"d":-0.02,"s":1.18,"f":0.873},{"d":0,"s":1.18,"f":0.875},{"d":0.02,"s":1.18,"f":0.874},{"d":0.04,"s":1.18,"f":0.871},{"d":0.06,"s":1.18,"f":0.865},{"d":0.08,"s":1.18,"f":0.857},{"d":0.1,"s":1.18,"f":0.845},{"d":0.12,"s":1.18,"f":0.829},{"d":0.14,"s":1.18,"f":0.808},{"d":0.16,"s":1.18,"f":0.783},{"d":0.18,"s":1.18,"f":0.75},{"d":0.2,"s":1.18,"f":0.711},
{"d":-0.2,"s":1.2,"f":0.665},{"d":-0.18,"s":1.2,"f":0.71},{"d":-0.16,"s":1.2,"f":0.748},{"d":-0.14,"s":1.2,"f":0.778},{"d":-0.12,"s":1.2,"f":0.802},{"d":-0.1,"s":1.2,"f":0.821},{"d":-0.08,"s":1.2,"f":0.836},{"d":-0.06,"s":1.2,"f":0.847},{"d":-0.04,"s":1.2,"f":0.854},{"d":-0.02,"s":1.2,"f":0.859},{"d":0,"s":1.2,"f":0.861},{"d":0.02,"s":1.2,"f":0.86},{"d":0.04,"s":1.2,"f":0.857},{"d":0.06,"s":1.2,"f":0.851},{"d":0.08,"s":1.2,"f":0.842},{"d":0.1,"s":1.2,"f":0.829},{"d":0.12,"s":1.2,"f":0.812},{"d":0.14,"s":1.2,"f":0.791},{"d":0.16,"s":1.2,"f":0.764},{"d":0.18,"s":1.2,"f":0.73},{"d":0.2,"s":1.2,"f":0.689}
],
"lines": [{"d":-0.176,"d2":0.176,"s":1.0,"s2":1.0},{"d":0,"d2":0,"s":0.802,"s2":1.19}],
"pa": [{"d":0.036,"s":0.953,"label":"max. fid. 0.9354"}],
"pb": [{"d":0.006,"s":0.982,"label":"max. fid. 0.943"}]
},
"hconcat": [
{
"title": {"text": "(a)", "orient": "bottom", "anchor": "middle", "font": "DejaVu Serif", "fontSize": 22, "fontWeight": "normal", "color": "#000", "offset": 30, "dx": -5},
"resolve": {"scale": {"color": "independent"}, "legend": {"color": "independent"}},
"vconcat": [
{
"width": 366, "height": 367,
"title": {"text": "SWAP gate: Ideal Block pulse", "anchor": "start", "frame": "group", "fontSize": 23, "font": "DejaVu Sans", "fontWeight": "normal", "color": "#333", "offset": 2},
"encoding": {
"x": {"field": "d", "type": "quantitative", "scale": {"domain": [-0.2, 0.2], "nice": false, "zero": false}, "axis": {"values": [-0.2, -0.1, 0, 0.1, 0.2], "format": ".1f", "title": "detuning (MHz)"}},
"y": {"field": "s", "type": "quantitative", "scale": {"domain": [0.8, 1.2], "nice": false, "zero": false}, "axis": {"values": [0.8, 0.9, 1.0, 1.1, 1.2], "format": ".1f", "title": "swap ratio"}}
},
"layer": [
{"data": {"name": "a"}, "mark": {"type": "rect", "width": 19.4, "height": 19.4, "clip": true}, "encoding": {"color": {"field": "f", "type": "quantitative", "title": "Fidelity", "scale": {"scheme": "viridis", "domain": [0.585, 0.9354], "nice": false, "zero": false}, "legend": {"values": [0.6, 0.65, 0.7, 0.75, 0.8, 0.85, 0.9], "format": ".2f", "encoding": {"title": {"angle": {"value": 270}}}}}}},
{"data": {"name": "lines"}, "mark": {"type": "rule", "color": "#808080", "strokeWidth": 2, "strokeDash": [6, 3]}, "encoding": {"x2": {"field": "d2"}, "y2": {"field": "s2"}}},
{"data": {"name": "pa"}, "mark": {"type": "point", "shape": "M-1,-1L1,1M-1,1L1,-1", "size": 150, "filled": false, "stroke": "#ff00ff", "strokeWidth": 2, "opacity": 1}, "encoding": {}},
{"data": {"name": "pa"}, "mark": {"type": "text", "dx": 27, "dy": 21, "align": "center", "baseline": "middle", "font": "DejaVu Sans", "fontSize": 17.5, "color": "#ff00ff"}, "encoding": {"text": {"field": "label"}}}
]
}
]
},
{
"title": {"text": "(b)", "orient": "bottom", "anchor": "middle", "font": "DejaVu Serif", "fontSize": 22, "fontWeight": "normal", "color": "#000", "offset": 30, "dx": -5},
"resolve": {"scale": {"color": "independent"}, "legend": {"color": "independent"}},
"vconcat": [
{
"width": 367, "height": 367,
"title": {"text": "SWAP gate: Ideal π-pulse", "anchor": "start", "frame": "group", "fontSize": 23, "font": "DejaVu Sans", "fontWeight": "normal", "color": "#333", "offset": 2},
"encoding": {
"x": {"field": "d", "type": "quantitative", "scale": {"domain": [-0.2, 0.2], "nice": false, "zero": false}, "axis": {"values": [-0.2, -0.1, 0, 0.1, 0.2], "format": ".1f", "title": "detuning (MHz)"}},
"y": {"field": "s", "type": "quantitative", "scale": {"domain": [0.8, 1.2], "nice": false, "zero": false}, "axis": {"values": [0.8, 0.9, 1.0, 1.1, 1.2], "format": ".1f", "title": "swap ratio"}}
},
"layer": [
{"data": {"name": "b"}, "mark": {"type": "rect", "width": 19.4, "height": 19.4, "clip": true}, "encoding": {"color": {"field": "f", "type": "quantitative", "title": "Fidelity", "scale": {"scheme": "viridis", "domain": [0.663, 0.943], "nice": false, "zero": false}, "legend": {"values": [0.7, 0.75, 0.8, 0.85, 0.9], "format": ".2f", "encoding": {"title": {"angle": {"value": 270}}}}}}},
{"data": {"name": "lines"}, "mark": {"type": "rule", "color": "#808080", "strokeWidth": 2, "strokeDash": [6, 3]}, "encoding": {"x2": {"field": "d2"}, "y2": {"field": "s2"}}},
{"data": {"name": "pb"}, "mark": {"type": "point", "shape": "M-1,-1L1,1M-1,1L1,-1", "size": 150, "filled": false, "stroke": "#ff00ff", "strokeWidth": 2, "opacity": 1}, "encoding": {}},
{"data": {"name": "pb"}, "mark": {"type": "text", "dx": 20, "dy": 19, "align": "center", "baseline": "middle", "font": "DejaVu Sans", "fontSize": 17.5, "color": "#ff00ff"}, "encoding": {"text": {"field": "label"}}}
]
}
]
}
],
"spacing": 49,
"resolve": {"scale": {"color": "independent"}, "legend": {"color": "independent"}},
"config": {
"font": "DejaVu Sans",
"view": {"stroke": "#999", "strokeWidth": 1},
"axis": {"domain": false, "ticks": false, "grid": false, "labelFont": "DejaVu Sans", "labelFontSize": 17, "labelColor": "#444", "titleFont": "DejaVu Sans", "titleFontSize": 21, "titleFontWeight": "normal", "titleColor": "#444", "labelPadding": 6, "labelFlush": false},
"axisX": {"titlePadding": 4, "labelPadding": 10},
"axisY": {"titlePadding": 8, "labelFlush": true},
"legend": {"gradientLength": 367, "gradientVerticalMaxLength": 400, "gradientThickness": 19, "gradientStrokeColor": "#999", "gradientStrokeWidth": 1, "labelFont": "DejaVu Sans", "labelFontSize": 17, "labelColor": "#444", "titleFont": "DejaVu Sans", "titleFontSize": 21, "titleFontWeight": "normal", "titleColor": "#444", "titleOrient": "right", "offset": 23, "padding": 0, "labelOffset": 5, "titlePadding": 31, "labelOverlap": false}
}
}
